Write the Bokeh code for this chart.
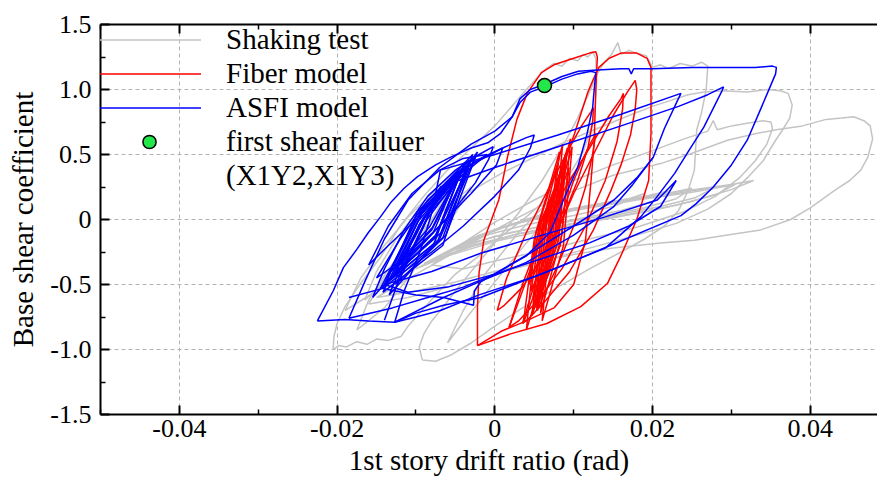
from bokeh.plotting import figure
from bokeh.models import (Range1d, LinearAxis, Legend, LegendItem, FixedTicker,
                          CustomJSTickFormatter)
from bokeh.embed import file_html
from bokeh.resources import INLINE

# ---------------- data (drift ratio [rad], base shear coefficient) ----------------
x_ticks = [-0.04, -0.02, 0.0, 0.02, 0.04]
x_minor = [-0.05, -0.03, -0.01, 0.01, 0.03]
y_ticks = [-1.5, -1.0, -0.5, 0.0, 0.5, 1.0, 1.5]
y_minor = [-1.25, -0.75, -0.25, 0.25, 0.75, 1.25]

# Shaking test (gray)
g1_x = [-0.0119,-0.0135,-0.0150,-0.0162,-0.0175,-0.0188,-0.0198,-0.0205,-0.0204,-0.0200,-0.0190,-0.0170,-0.0145,-0.0120,-0.0090,-0.0060,-0.0030,0.0000,0.0020,0.0040,0.0055,0.0065,0.0075,0.0085,0.0095,0.0105,0.0112,0.0118,0.0124,0.0128,0.0129,0.0127,0.0122,0.0112,0.0095,0.0070,0.0040,0.0010,-0.0020,-0.0050,-0.0075,-0.0095,-0.0110,-0.0119]
g1_y = [-0.90,-0.93,-0.92,-0.96,-0.94,-0.98,-0.97,-1.00,-0.90,-0.80,-0.67,-0.49,-0.29,-0.05,0.18,0.38,0.55,0.72,0.86,1.00,1.10,1.16,1.20,1.18,1.24,1.22,1.27,1.25,1.29,1.24,1.05,0.85,0.70,0.52,0.35,0.18,0.02,-0.12,-0.28,-0.42,-0.58,-0.72,-0.82,-0.90]
g2_x = [-0.0092,-0.0096,-0.0090,-0.0080,-0.0069,-0.0050,-0.0030,0.0000,0.0030,0.0060,0.0085,0.0105,0.0120,0.0130,0.0140,0.0148,0.0156,0.0160,0.0170,0.0180,0.0192,0.0200,0.0210,0.0220,0.0235,0.0250,0.0262,0.0270,0.0268,0.0262,0.0256,0.0253,0.0245,0.0233,0.0215,0.0190,0.0160,0.0120,0.0080,0.0040,0.0000,-0.0030,-0.0055,-0.0075,-0.0092]
g2_y = [-1.08,-0.98,-0.88,-0.78,-0.70,-0.55,-0.40,-0.18,0.05,0.30,0.55,0.78,0.98,1.12,1.22,1.27,1.36,1.27,1.30,1.28,1.26,1.17,1.19,1.16,1.20,1.18,1.21,1.18,1.00,0.82,0.69,0.38,0.22,0.07,-0.05,-0.15,-0.25,-0.38,-0.52,-0.66,-0.82,-0.95,-1.04,-1.09,-1.08]
g3_x = [-0.0160,-0.0140,-0.0110,-0.0070,-0.0030,0.0010,0.0050,0.0090,0.0130,0.0170,0.0200,0.0225,0.0245,0.0265,0.0290,0.0320,0.0345,0.0362,0.0372,0.0377,0.0374,0.0366,0.0355,0.0340,0.0320,0.0300,0.0270,0.0230,0.0180,0.0120,0.0060,0.0000,-0.0060,-0.0110,-0.0160]
g3_y = [-0.65,-0.45,-0.20,0.05,0.22,0.36,0.48,0.60,0.70,0.80,0.87,0.92,0.96,0.98,0.99,0.98,1.00,0.99,0.97,0.88,0.78,0.70,0.60,0.45,0.32,0.20,0.08,-0.03,-0.12,-0.22,-0.32,-0.42,-0.52,-0.60,-0.65]
g4_x = [-0.0080,-0.0040,0.0000,0.0050,0.0100,0.0150,0.0200,0.0240,0.0270,0.0277,0.0282,0.0300,0.0320,0.0340,0.0350,0.0352,0.0345,0.0330,0.0310,0.0280,0.0240,0.0180,0.0120,0.0060,0.0000,-0.0040,-0.0080]
g4_y = [-0.35,-0.18,-0.02,0.15,0.30,0.42,0.53,0.62,0.68,0.76,0.69,0.72,0.74,0.76,0.75,0.70,0.58,0.45,0.32,0.18,0.06,-0.06,-0.15,-0.24,-0.32,-0.38,-0.35]
g5_x = [-0.0150,-0.0100,-0.0050,0.0000,0.0050,0.0100,0.0150,0.0210,0.0250,0.0295,0.0330,0.0357,0.0390,0.0420,0.0440,0.0455,0.0468,0.0476,0.0479,0.0476,0.0473,0.0464,0.0450,0.0430,0.0400,0.0375,0.0337,0.0295,0.0253,0.0210,0.0150,0.0100,0.0050,0.0000,-0.0050,-0.0100,-0.0150]
g5_y = [-0.60,-0.42,-0.25,-0.08,0.08,0.22,0.34,0.43,0.51,0.61,0.66,0.69,0.72,0.77,0.78,0.79,0.76,0.72,0.62,0.55,0.48,0.38,0.30,0.22,0.09,0.00,-0.08,-0.12,-0.16,-0.18,-0.22,-0.27,-0.33,-0.40,-0.48,-0.55,-0.60]
f1_x = [-0.0100,-0.0050,0.0000,0.0080,0.0160,0.0240,0.0300,0.0328,0.0300,0.0250,0.0200,0.0120,0.0050,0.0000,-0.0060,-0.0100]
f1_y = [-0.38,-0.22,-0.08,0.06,0.15,0.22,0.27,0.30,0.23,0.14,0.07,-0.02,-0.10,-0.17,-0.28,-0.38]
f2_x = [-0.0090,-0.0040,0.0020,0.0100,0.0180,0.0250,0.0305,0.0280,0.0230,0.0170,0.0100,0.0030,-0.0030,-0.0090]
f2_y = [-0.34,-0.18,-0.04,0.07,0.15,0.21,0.27,0.19,0.11,0.04,-0.03,-0.11,-0.21,-0.34]
f3_x = [-0.0080,-0.0030,0.0030,0.0100,0.0170,0.0230,0.0280,0.0255,0.0210,0.0150,0.0090,0.0030,-0.0030,-0.0080]
f3_y = [-0.32,-0.15,-0.02,0.08,0.15,0.20,0.25,0.17,0.10,0.03,-0.04,-0.11,-0.20,-0.32]
f4_x = [-0.0070,-0.0020,0.0040,0.0100,0.0160,0.0210,0.0250,0.0230,0.0190,0.0140,0.0080,0.0020,-0.0030,-0.0070]
f4_y = [-0.28,-0.12,0.00,0.08,0.14,0.19,0.24,0.16,0.09,0.03,-0.03,-0.10,-0.18,-0.28]
f5_x = [-0.0060,-0.0010,0.0050,0.0110,0.0170,0.0220,0.0200,0.0160,0.0110,0.0060,0.0000,-0.0060]
f5_y = [-0.25,-0.10,0.02,0.09,0.15,0.22,0.14,0.07,0.01,-0.05,-0.13,-0.25]
f6_x = [-0.0050,0.0000,0.0060,0.0120,0.0170,0.0190,0.0150,0.0100,0.0040,-0.0010,-0.0050]
f6_y = [-0.22,-0.08,0.04,0.11,0.16,0.20,0.10,0.03,-0.04,-0.12,-0.22]
l1_x = [-0.0190,-0.0170,-0.0140,-0.0110,-0.0080,-0.0050,-0.0065,-0.0090,-0.0120,-0.0150,-0.0190]
l1_y = [-0.70,-0.45,-0.20,0.02,0.20,0.32,0.15,-0.10,-0.35,-0.55,-0.70]
l2_x = [-0.0165,-0.0150,-0.0125,-0.0100,-0.0070,-0.0040,-0.0060,-0.0085,-0.0110,-0.0140,-0.0165]
l2_y = [-0.62,-0.40,-0.15,0.05,0.22,0.38,0.18,-0.05,-0.28,-0.48,-0.62]
l3_x = [-0.0175,-0.0160,-0.0135,-0.0100,-0.0060,-0.0030,-0.0050,-0.0080,-0.0110,-0.0140,-0.0175]
l3_y = [-0.85,-0.62,-0.38,-0.12,0.10,0.25,0.05,-0.20,-0.45,-0.68,-0.85]
l4_x = [-0.0060,-0.0040,-0.0010,0.0030,0.0070,0.0100,0.0080,0.0040,0.0000,-0.0035,-0.0060]
l4_y = [-0.95,-0.70,-0.40,-0.10,0.15,0.35,0.10,-0.18,-0.48,-0.75,-0.95]

# Fiber model (red)
r1_x = [-0.0022,-0.0022,-0.0020,-0.0014,0.0005,0.0016,0.0028,0.0041,0.0059,0.0075,0.0100,0.0120,0.0128,0.0130,0.0128,0.0126,0.0122,0.0115,0.0100,0.0075,0.0040,0.0008,-0.0022]
r1_y = [-0.97,-0.67,-0.41,-0.16,0.15,0.48,0.77,0.97,1.13,1.19,1.24,1.28,1.29,1.25,1.00,0.60,0.30,-0.16,-0.50,-0.68,-0.78,-0.86,-0.97]
r2_x = [-0.0022,0.0020,0.0066,0.0109,0.0143,0.0159,0.0180,0.0195,0.0198,0.0198,0.0193,0.0180,0.0160,0.0145,0.0132,0.0125,0.0118,0.0101,0.0079,0.0066,0.0050,0.0035,0.0018]
r2_y = [-0.97,-0.88,-0.80,-0.67,-0.49,-0.29,0.00,0.30,0.66,1.17,1.24,1.28,1.28,1.24,1.17,1.08,0.98,0.66,0.28,0.00,-0.30,-0.55,-0.83]
r3_x = [0.0035,0.0050,0.0075,0.0100,0.0125,0.0150,0.0168,0.0178,0.0180,0.0178,0.0172,0.0160,0.0147,0.0125,0.0095,0.0065,0.0045,0.0035]
r3_y = [-0.80,-0.50,-0.15,0.20,0.50,0.80,0.98,1.07,1.00,0.85,0.65,0.42,0.22,-0.08,-0.40,-0.62,-0.75,-0.80]
r4_x = [0.0018,0.0035,0.0060,0.0090,0.0120,0.0145,0.0160,0.0163,0.0162,0.0155,0.0140,0.0115,0.0085,0.0055,0.0030,0.0018]
r4_y = [-0.83,-0.50,-0.10,0.25,0.55,0.80,0.93,0.97,0.85,0.60,0.30,-0.05,-0.38,-0.62,-0.78,-0.83]
r5_x = [0.0003,0.0015,0.0040,0.0065,0.0090,0.0110,0.0122,0.0125,0.0124,0.0118,0.0105,0.0085,0.0060,0.0035,0.0012,0.0003]
r5_y = [-0.70,-0.45,-0.10,0.20,0.50,0.72,0.83,0.86,0.75,0.55,0.30,0.00,-0.30,-0.52,-0.66,-0.70]
r6_x = [0.0054,0.0060,0.0080,0.0100,0.0118,0.0128,0.0124,0.0115,0.0100,0.0080,0.0062,0.0054]
r6_y = [-0.70,-0.45,-0.05,0.30,0.55,0.66,0.50,0.25,-0.05,-0.35,-0.58,-0.70]
sp1_x = [0.0048,0.0062,0.0088,0.0076,0.0048]; sp1_y = [-0.62,0.00,0.45,-0.17,-0.62]
sp2_x = [0.0053,0.0066,0.0092,0.0081,0.0053]; sp2_y = [-0.70,0.02,0.55,-0.15,-0.70]
sp3_x = [0.0046,0.0059,0.0083,0.0072,0.0046]; sp3_y = [-0.55,-0.02,0.35,-0.18,-0.55]
sp4_x = [0.0058,0.0070,0.0096,0.0085,0.0058]; sp4_y = [-0.72,0.05,0.62,-0.12,-0.72]
sp5_x = [0.0050,0.0064,0.0090,0.0078,0.0050]; sp5_y = [-0.66,0.00,0.50,-0.16,-0.66]
sp6_x = [0.0043,0.0057,0.0081,0.0070,0.0043]; sp6_y = [-0.50,-0.03,0.30,-0.18,-0.50]
sp7_x = [0.0056,0.0069,0.0094,0.0083,0.0056]; sp7_y = [-0.60,-0.02,0.40,-0.20,-0.60]
sp8_x = [0.0052,0.0063,0.0086,0.0076,0.0052]; sp8_y = [-0.68,0.03,0.58,-0.10,-0.68]
sp9_x = [0.0044,0.0057,0.0078,0.0068,0.0044]; sp9_y = [-0.45,-0.05,0.25,-0.18,-0.45]
sp10_x = [0.0054,0.0066,0.0090,0.0080,0.0054]; sp10_y = [-0.64,-0.02,0.48,-0.17,-0.64]
sp11_x = [0.0040,0.0052,0.0082,0.0068,0.0040]; sp11_y = [-0.85,-0.10,0.52,-0.30,-0.85]
sp12_x = [0.0036,0.0050,0.0079,0.0064,0.0036]; sp12_y = [-0.80,-0.15,0.42,-0.35,-0.80]
sp13_x = [0.0060,0.0072,0.0098,0.0087,0.0060]; sp13_y = [-0.78,0.00,0.56,-0.20,-0.78]
sp14_x = [0.0047,0.0060,0.0086,0.0074,0.0047]; sp14_y = [-0.74,-0.05,0.40,-0.25,-0.74]

# ASFI model (blue)
b1_x = [-0.0225,-0.0205,-0.0192,-0.0175,-0.0161,-0.0145,-0.0132,-0.0115,-0.0098,-0.0075,-0.0056,-0.0030,-0.0009,0.0007,0.0022,0.0032,0.0045,0.0063,0.0085,0.0106,0.0130,0.0160,0.0170,0.0173,0.0176,0.0200,0.0250,0.0300,0.0330,0.0352,0.0357,0.0356,0.0349,0.0335,0.0320,0.0300,0.0277,0.0255,0.0236,0.0150,0.0080,-0.0018,-0.0065,-0.0100,-0.0127,-0.0160,-0.0190,-0.0225]
b1_y = [-0.78,-0.55,-0.37,-0.23,-0.106,0.02,0.13,0.24,0.33,0.42,0.48,0.55,0.59,0.66,0.79,0.93,1.00,1.04,1.10,1.14,1.15,1.16,1.16,1.12,1.16,1.16,1.17,1.17,1.17,1.18,1.17,1.12,1.02,0.82,0.61,0.42,0.25,0.12,0.03,-0.19,-0.37,-0.60,-0.66,-0.72,-0.79,-0.78,-0.77,-0.78]
b2_x = [-0.0185,-0.0165,-0.0140,-0.0110,-0.0070,-0.0030,0.0000,0.0022,0.0032,0.0045,0.0063,0.0085,0.0105,0.0122,0.0128,0.0126,0.0124,0.0117,0.0105,0.0087,0.0070,0.0040,0.0000,-0.0040,-0.0085,-0.0130,-0.0185]
b2_y = [-0.76,-0.48,-0.15,0.15,0.40,0.58,0.68,0.79,0.90,0.98,1.02,1.08,1.12,1.14,1.13,1.00,0.86,0.66,0.40,0.15,-0.10,-0.28,-0.42,-0.52,-0.60,-0.68,-0.76]
b3_x = [-0.0140,-0.0125,-0.0105,-0.0085,-0.0069,0.0000,0.0080,0.0160,0.0233,0.0270,0.0290,0.0288,0.0265,0.0245,0.0228,0.0205,0.0185,0.0140,0.0050,-0.0020,-0.0069,-0.0100,-0.0127]
b3_y = [-0.775,-0.52,-0.25,0.02,0.25,0.40,0.56,0.72,0.87,0.96,1.02,0.99,0.71,0.52,0.355,0.17,0.02,-0.22,-0.44,-0.58,-0.70,-0.75,-0.79]
b4_x = [-0.0127,-0.0115,-0.0095,-0.0080,-0.0069,0.0000,0.0080,0.0160,0.0236,0.0232,0.0215,0.0201,0.0175,0.0150,0.0100,0.0040,-0.0020,-0.0065,-0.0127]
b4_y = [-0.79,-0.55,-0.25,0.05,0.38,0.50,0.65,0.81,0.97,0.92,0.70,0.48,0.27,0.095,-0.12,-0.33,-0.48,-0.60,-0.79]
b5_x = [-0.0142,-0.0125,-0.0100,-0.0070,-0.0030,0.0010,0.0040,0.0050,0.0045,0.0030,0.0000,-0.0040,-0.0080,-0.0115,-0.0142]
b5_y = [-0.53,-0.30,0.00,0.22,0.42,0.55,0.63,0.65,0.55,0.38,0.18,-0.05,-0.25,-0.40,-0.53]
b6_x = [-0.0155,-0.0140,-0.0115,-0.0085,-0.0050,-0.0020,-0.0002,-0.0008,-0.0025,-0.0055,-0.0090,-0.0125,-0.0155]
b6_y = [-0.60,-0.38,-0.08,0.18,0.38,0.50,0.56,0.46,0.28,0.05,-0.18,-0.40,-0.60]
b7_x = [-0.0185,-0.0142,-0.0100,-0.0065,-0.0027,-0.0026,-0.0018,0.0050,0.0100,0.0151,0.0180,0.0201]
b7_y = [-0.60,-0.53,-0.58,-0.60,-0.66,-0.55,-0.48,-0.24,-0.05,0.15,0.32,0.48]
b8_x = [-0.0140,-0.0080,-0.0018,0.0060,0.0140,0.0206,0.0230,0.0210,0.0170,0.0120,0.0060,0.0000,-0.0060,-0.0110,-0.0140]
b8_y = [-0.50,-0.40,-0.26,-0.12,0.02,0.15,0.30,0.10,-0.05,-0.18,-0.30,-0.42,-0.52,-0.56,-0.50]
b9_x = [-0.0150,-0.0120,-0.0085,-0.0050,-0.0015,0.0010,0.0002,-0.0030,-0.0070,-0.0110,-0.0150]
b9_y = [-0.45,-0.15,0.15,0.35,0.48,0.55,0.42,0.20,-0.05,-0.28,-0.45]
b10_x = [-0.0160,-0.0135,-0.0105,-0.0070,-0.0040,-0.0010,-0.0030,-0.0065,-0.0100,-0.0135,-0.0160]
b10_y = [-0.35,-0.05,0.20,0.38,0.47,0.50,0.40,0.22,0.00,-0.20,-0.35]
w1_x = [-0.0140,-0.0095,-0.0030,-0.0075,-0.0140]; w1_y = [-0.50,0.05,0.45,-0.12,-0.50]
w2_x = [-0.0135,-0.0092,-0.0040,-0.0080,-0.0135]; w2_y = [-0.42,0.08,0.40,-0.08,-0.42]
w3_x = [-0.0145,-0.0100,-0.0025,-0.0070,-0.0145]; w3_y = [-0.53,0.00,0.48,-0.15,-0.53]
w4_x = [-0.0128,-0.0088,-0.0045,-0.0082,-0.0128]; w4_y = [-0.38,0.10,0.35,-0.05,-0.38]
w5_x = [-0.0132,-0.0090,-0.0035,-0.0072,-0.0132]; w5_y = [-0.46,0.02,0.42,-0.16,-0.46]
w6_x = [-0.0120,-0.0085,-0.0050,-0.0078,-0.0120]; w6_y = [-0.35,0.06,0.30,-0.10,-0.35]
w7_x = [-0.0138,-0.0098,-0.0028,-0.0068,-0.0138]; w7_y = [-0.48,0.06,0.50,-0.10,-0.48]
w8_x = [-0.0125,-0.0094,-0.0042,-0.0076,-0.0125]; w8_y = [-0.40,-0.02,0.38,-0.14,-0.40]
w9_x = [-0.0130,-0.0093,-0.0038,-0.0074,-0.0130]; w9_y = [-0.44,0.04,0.44,-0.12,-0.44]
w10_x = [-0.0118,-0.0083,-0.0048,-0.0079,-0.0118]; w10_y = [-0.32,0.08,0.33,-0.06,-0.32]
w11_x = [-0.0142,-0.0098,-0.0032,-0.0066,-0.0142]; w11_y = [-0.56,-0.02,0.46,-0.20,-0.56]
w12_x = [-0.0126,-0.0086,-0.0022,-0.0062,-0.0126]; w12_y = [-0.50,0.00,0.52,-0.12,-0.50]
w13_x = [-0.0134,-0.0096,-0.0044,-0.0078,-0.0134]; w13_y = [-0.58,-0.04,0.36,-0.20,-0.58]
w14_x = [-0.0122,-0.0084,-0.0033,-0.0066,-0.0122]; w14_y = [-0.44,0.04,0.40,-0.14,-0.44]

# first shear failure
fail_x = [0.0063]
fail_y = [1.03]

# ---------------- figure ----------------
SERIF = "Liberation Serif"
p = figure(width=877, height=479, output_backend="svg", toolbar_location=None,
           x_range=Range1d(-0.05, 0.04852), y_range=Range1d(-1.5, 1.5),
           min_border_left=100, min_border_right=0, min_border_top=24, min_border_bottom=65,
           background_fill_color="white", border_fill_color="white")
p.outline_line_color = None

gray_xs = [g1_x, g2_x, g3_x, g4_x, g5_x, f1_x, f2_x, f3_x, f4_x, f5_x, f6_x, l1_x, l2_x, l3_x, l4_x]
gray_ys = [g1_y, g2_y, g3_y, g4_y, g5_y, f1_y, f2_y, f3_y, f4_y, f5_y, f6_y, l1_y, l2_y, l3_y, l4_y]
red_xs = [r1_x, r2_x, r3_x, r4_x, r5_x, r6_x, sp1_x, sp2_x, sp3_x, sp4_x, sp5_x, sp6_x, sp7_x,
          sp8_x, sp9_x, sp10_x, sp11_x, sp12_x, sp13_x, sp14_x]
red_ys = [r1_y, r2_y, r3_y, r4_y, r5_y, r6_y, sp1_y, sp2_y, sp3_y, sp4_y, sp5_y, sp6_y, sp7_y,
          sp8_y, sp9_y, sp10_y, sp11_y, sp12_y, sp13_y, sp14_y]
blue_xs = [b1_x, b2_x, b3_x, b4_x, b5_x, b6_x, b7_x, b8_x, b9_x, b10_x, w1_x, w2_x, w3_x, w4_x, w5_x,
           w6_x, w7_x, w8_x, w9_x, w10_x, w11_x, w12_x, w13_x, w14_x]
blue_ys = [b1_y, b2_y, b3_y, b4_y, b5_y, b6_y, b7_y, b8_y, b9_y, b10_y, w1_y, w2_y, w3_y, w4_y, w5_y,
           w6_y, w7_y, w8_y, w9_y, w10_y, w11_y, w12_y, w13_y, w14_y]

gr = p.multi_line(xs=gray_xs, ys=gray_ys, line_color="#c4c4c4", line_width=1.5)
rr = p.multi_line(xs=red_xs, ys=red_ys, line_color="#ff0000", line_width=1.5)
br = p.multi_line(xs=blue_xs, ys=blue_ys, line_color="#0000ff", line_width=1.5)
dot = p.scatter(x=fail_x, y=fail_y, size=14, fill_color="#22e64a", line_color="black", line_width=1.5)
dummy = p.scatter(x=[], y=[], size=0, fill_alpha=0, line_alpha=0)

xt = FixedTicker(ticks=x_ticks, minor_ticks=x_minor)
yt = FixedTicker(ticks=y_ticks, minor_ticks=y_minor)
xfmt = CustomJSTickFormatter(code="return Math.abs(tick) < 1e-9 ? '0' : tick.toFixed(2);")
yfmt = CustomJSTickFormatter(code="return Math.abs(tick) < 1e-9 ? '0' : tick.toFixed(1);")

bottom = p.below[0]
left = p.left[0]
top = LinearAxis(ticker=xt, major_label_text_font_size="0px", major_label_standoff=0,
                 major_label_text_alpha=0)
p.add_layout(top, "above")

for ax in [bottom, left, top]:
    ax.major_tick_in = 9
    ax.major_tick_out = 0
    ax.minor_tick_in = 5
    ax.minor_tick_out = 0
    ax.axis_line_width = 2
    ax.axis_line_color = "black"
    ax.major_tick_line_width = 2
    ax.major_tick_line_color = "black"
    ax.minor_tick_line_width = 1.5
    ax.minor_tick_line_color = "black"

bottom.ticker = xt
left.ticker = yt
bottom.formatter = xfmt
left.formatter = yfmt
for ax in [bottom, left]:
    ax.major_label_text_font = SERIF
    ax.major_label_text_font_size = "26px"
    ax.major_label_text_color = "black"
    ax.axis_label_text_font = SERIF
    ax.axis_label_text_font_size = "29px"
    ax.axis_label_text_font_style = "normal"
    ax.axis_label_text_color = "black"
bottom.axis_label = "1st story drift ratio (rad)"
left.axis_label = "Base shear coefficient"
bottom.major_label_standoff = 5
bottom.axis_label_standoff = 4
bottom.major_label_text_line_height = 0.95
bottom.axis_label_text_line_height = 0.95
left.major_label_standoff = 9
left.axis_label_standoff = 8

p.xgrid.ticker = xt
p.ygrid.ticker = yt
for g in [p.xgrid, p.ygrid]:
    g.grid_line_color = "#b4b4b4"
    g.grid_line_dash = "4 3"
    g.grid_line_width = 1

legend = Legend(items=[
    LegendItem(label="Shaking test", renderers=[gr]),
    LegendItem(label="Fiber model", renderers=[rr]),
    LegendItem(label="ASFI model", renderers=[br]),
    LegendItem(label="first shear failuer", renderers=[dot]),
    LegendItem(label="(X1Y2,X1Y3)", renderers=[dummy]),
], location=(-3, 222), glyph_width=104, glyph_height=33, label_height=33, spacing=1,
   padding=0, margin=0, label_standoff=25, label_text_font=SERIF, label_text_font_size="29px",
   label_text_color="black", background_fill_alpha=0, border_line_color=None)
p.add_layout(legend)

open("out.html", "w").write(file_html(p, INLINE))
